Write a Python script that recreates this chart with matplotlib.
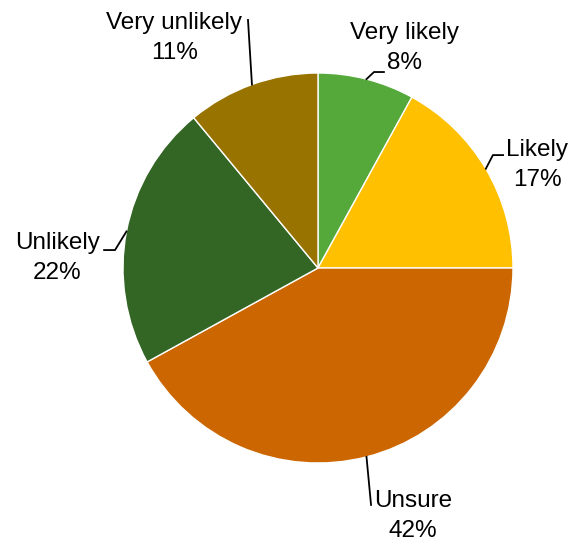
import numpy as np
import matplotlib
matplotlib.use('Agg')
from matplotlib import pyplot as plt

plt.rcParams['font.family'] = ['Liberation Sans', 'DejaVu Sans']

# data, clockwise from 12 o'clock
labels = ['Very likely', 'Likely', 'Unsure', 'Unlikely', 'Very unlikely']
values = [8, 17, 42, 22, 11]
colors = ['#55A93A', '#FFC000', '#CC6600', '#336624', '#997300']

# label placement (data units, pie radius = 1)
text_pos = [(0.446, 1.128), (1.123, 0.528), (0.487, -1.272), (-1.338, 0.051), (-0.738, 1.18)]
# leader line bend points after the wedge edge point
leader_pts = [
    [(0.287, 1.005), (0.338, 1.005)],
    [(0.897, 0.579), (0.949, 0.579)],
    [(0.272, -1.215)],
    [(-1.041, 0.092), (-1.097, 0.092)],
    [(-0.359, 1.272)],
]

W, H = 572, 543
fig = plt.figure(figsize=(W / 100, H / 100), dpi=100)
cx, cy, r = 318, 268, 195
ax = fig.add_axes([(cx - r) / W, (H - cy - r) / H, 2 * r / W, 2 * r / H])

wedges, _ = ax.pie(values, colors=colors, startangle=90, counterclock=False,
                   radius=1, wedgeprops=dict(edgecolor='white', linewidth=1))
ax.set_xlim(-1, 1)
ax.set_ylim(-1, 1)
ax.set_aspect('equal')
ax.axis('off')

for w, lab, v, tp, pts in zip(wedges, labels, values, text_pos, leader_pts):
    mid = np.deg2rad((w.theta1 + w.theta2) / 2)
    xs = [np.cos(mid)] + [p[0] for p in pts]
    ys = [np.sin(mid)] + [p[1] for p in pts]
    ax.plot(xs, ys, color='black', lw=1.3, clip_on=False)
    ax.text(tp[0], tp[1], '%s\n%d%%' % (lab, v), ha='center', va='center',
            fontsize=17.5, linespacing=1.45, clip_on=False)

fig.savefig('out.png', dpi=100)
